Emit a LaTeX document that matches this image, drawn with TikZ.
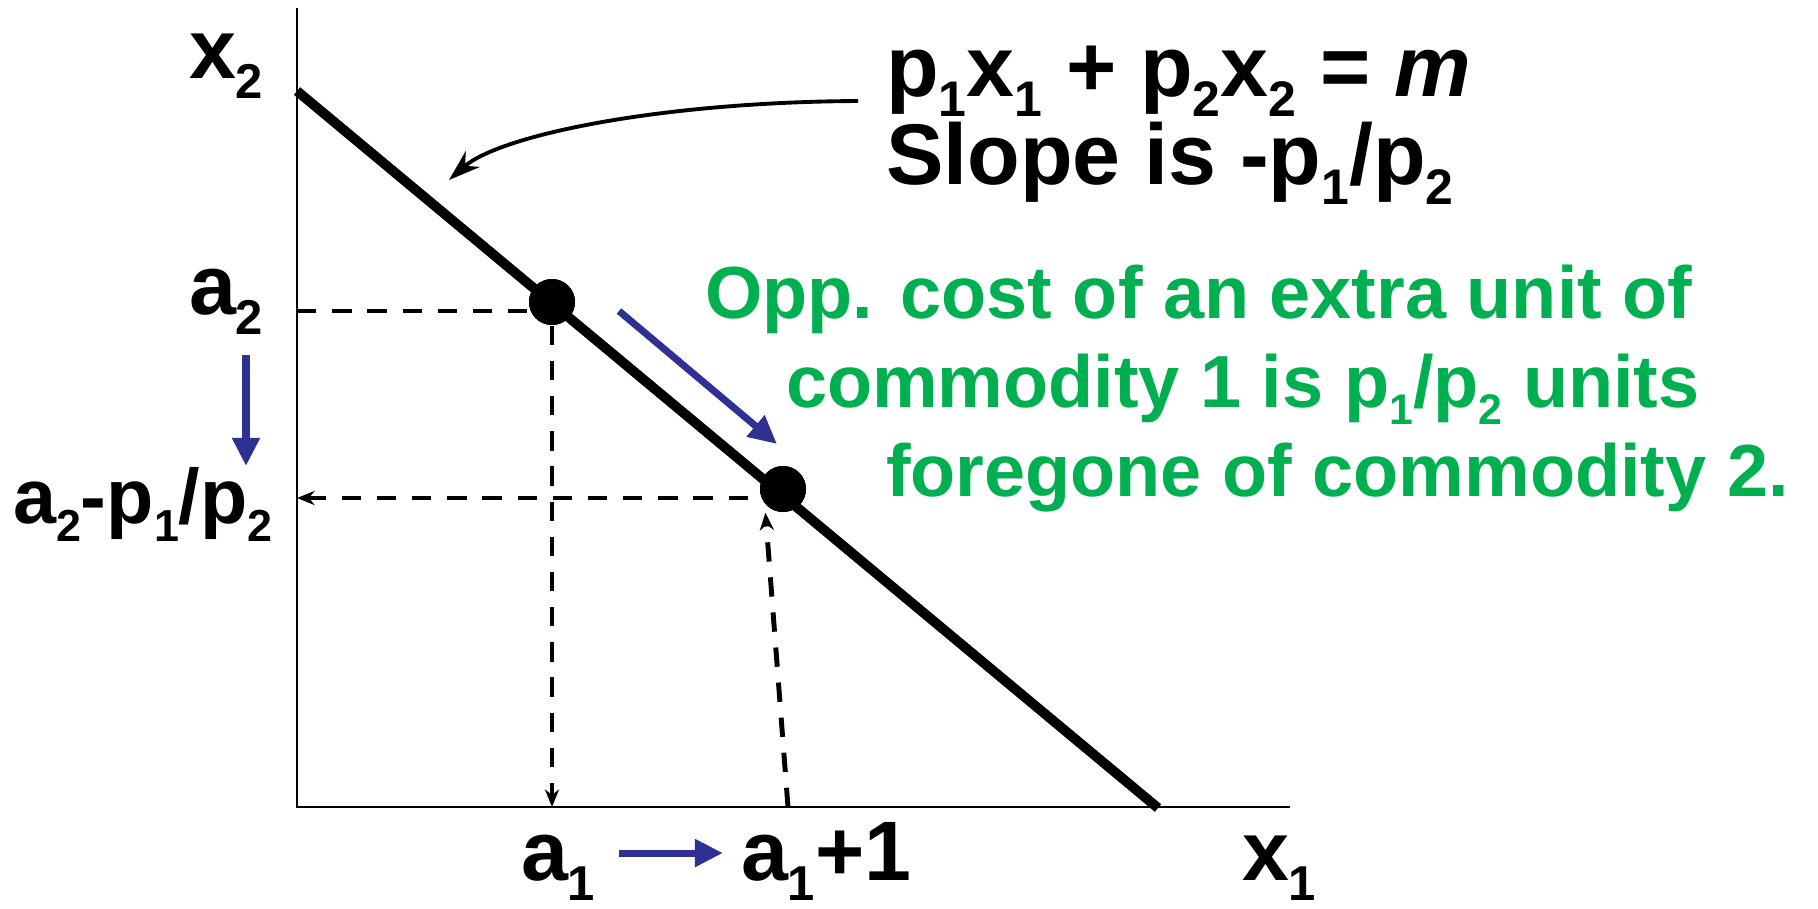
\documentclass[tikz,border=0pt]{standalone}
\usepackage{fontspec}
\setmainfont{Liberation Sans}
\usepackage{graphicx}
\usetikzlibrary{arrows.meta}
\definecolor{oppgreen}{RGB}{0,176,80}
\definecolor{navyarrow}{RGB}{46,49,146}
\newcommand\lo[1]{\raisebox{-0.24em}{\scalebox{0.58}{#1}}}
\begin{document}
\begin{tikzpicture}[x=0.01cm,y=-0.01cm,
  lbl/.style={inner sep=0pt,outer sep=0pt,anchor=base west,font=\fontsize{24}{28}\selectfont\bfseries},
  headtxt/.style={lbl,font=\fontsize{24.5}{29}\selectfont\bfseries},
  grn/.style={lbl,text=oppgreen,font=\fontsize{21}{25}\selectfont\bfseries},
  axisline/.style={line width=0.75pt},
  budget/.style={line width=2.8pt},
  guide/.style={line width=1.4pt,dash pattern=on 5.5pt off 4.5pt},
  tipped/.style={-{Stealth[length=5pt,width=4pt]}},
  shiftarrow/.style={navyarrow,line width=2pt,-{Triangle[length=8pt,width=7.5pt]}},
  bdot/.style={circle,fill=black,inner sep=0pt,minimum size=0.46cm}
]
\useasboundingbox (0,0) rectangle (1818,908);
% axes
\coordinate (O) at (297,807);
\coordinate (ytop) at (297,8);
\coordinate (xend) at (1290,807);
\draw[axisline] (ytop) -- (O) -- (xend);
% budget line
\coordinate (bl0) at (297,91);
\coordinate (bl1) at (1158,808);
% points
\coordinate (ya2) at (297,311);
\coordinate (ya3) at (297,498);
\coordinate (xb) at (788,807);
\node[bdot] (d1) at (552,302) {};
\node[bdot] (d2) at (783,489) {};
% guide lines (drawn below dots)
\draw[guide] (ya2) -- (ya2 -| d1);
\draw[guide,tipped] (d1) -- (d1 |- O);
\draw[guide,tipped] (ya3 -| d2) -- (ya3);
\draw[guide,tipped] (xb) -- ([xshift=-5]d2.south);
\draw[budget] (bl0) -- (bl1);
\node[bdot] at (d1) {};
\node[bdot] at (d2) {};
% labels
\node[lbl] (x2) at (189,78) {x\lo{2}};
\node[lbl] (a2) at (189,314) {a\lo{2}};
\node[lbl,font=\fontsize{22}{26}\selectfont\bfseries] (a2p) at (13,523) {a\lo{2}-p\lo{1}/p\lo{2}};
\node[lbl] (a1) at (521,880) {a\lo{1}};
\node[lbl] (a1p) at (741,880) {a\lo{1}+1};
\node[lbl] (x1) at (1242,880) {x\lo{1}};
\node[headtxt] (eq) at (886,96) {p\lo{1}x\lo{1} + p\lo{2}x\lo{2} = \textit{m}};
\node[headtxt] (slope) at (886,184) {Slope is -p\lo{1}/p\lo{2}};
\node[grn] (g1) at (705,318) {Opp. cost of an extra unit of};
\node[grn] (g2) at (786,407) {commodity 1 is p\lo{1}/p\lo{2} units};
\node[grn] (g3) at (886,496) {foregone of commodity 2.};
% curved pointer
\coordinate (c0) at (858,101);
\coordinate (c1) at (449,180);
\draw[line width=1.1pt,-{Stealth[length=9pt,width=6pt]}] (c0) .. controls (660,102) and (500,135) .. (c1);
% blue arrows
\coordinate (v0) at (246,355);
\coordinate (v1) at (246,466);
\draw[shiftarrow] (v0) -- (v1);
\coordinate (s0) at (619,311);
\coordinate (s1) at (777,444);
\draw[shiftarrow] (s0) -- (s1);
\coordinate (h0) at (619,853);
\coordinate (h1) at (723,853);
\draw[shiftarrow] (h0) -- (h1);
\end{tikzpicture}
\end{document}
